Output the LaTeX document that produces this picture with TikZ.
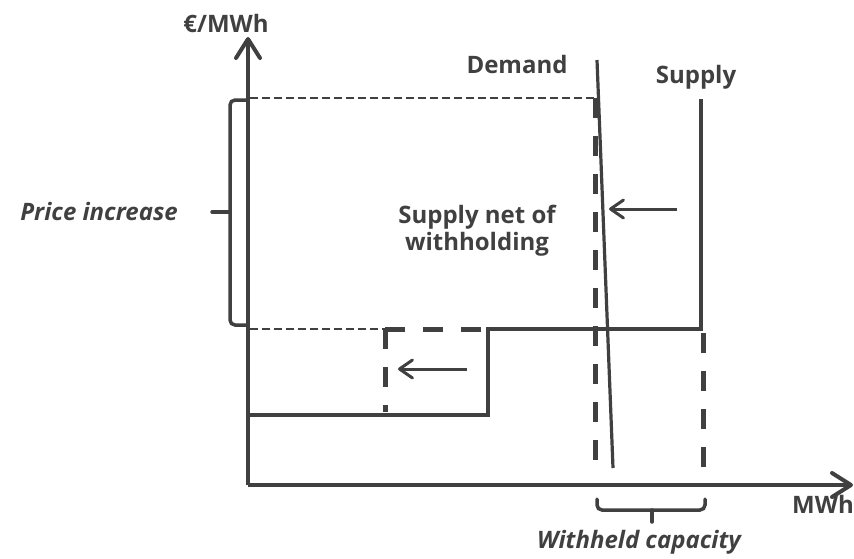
\documentclass[tikz,border=0pt]{standalone}
\usepackage{fontspec}
\setmainfont{Open Sans}
\usetikzlibrary{arrows.meta}
\definecolor{ink}{RGB}{64,64,64}
\tikzset{
  lbl/.style={text=ink, font=\fontsize{24}{27}\selectfont\bfseries, align=center, inner sep=0pt},
  ilbl/.style={lbl, font=\fontsize{24}{27}\selectfont\bfseries\itshape},
  axis/.style={draw=ink, line width=4pt, -{Straight Barb[length=19pt, width=24pt, line width=4pt, round]}},
  curve/.style={draw=ink, line width=4.5pt},
  demline/.style={draw=ink, line width=3.2pt},
  thin dash/.style={draw=ink, line width=2.5pt, dash pattern=on 8pt off 4pt},
  thick dash/.style={draw=ink, line width=5pt, dash pattern=on 20pt off 18pt},
  movearrow/.style={draw=ink, line width=3pt, -{Straight Barb[length=13pt, width=18pt, line width=3pt, round]}},
  brace/.style={draw=ink, line width=3.5pt, rounded corners=5pt, line cap=round},
}
\begin{document}
\begin{tikzpicture}[x=1pt, y=-1pt]
  \useasboundingbox (0,0) rectangle (854,558);
  \coordinate (o) at (248,485);
  \coordinate (ytop) at (248,37);
  \coordinate (xend) at (853,485);
  \coordinate (dtop) at (597,60);
  \coordinate (dbot) at (613,468);
  \coordinate (s1) at (248,415);
  \coordinate (s2) at (488,415);
  \coordinate (s3) at (488,329);
  \coordinate (s4) at (701,329);
  \coordinate (s5) at (701,99);
  \coordinate (w1) at (385,329);
  \coordinate (w2) at (385,412);
  \coordinate (n1) at (595,98);
  \coordinate (n2) at (595,465);
  \coordinate (r1) at (703,333);
  \coordinate (r2) at (703,472);
  \coordinate (pl) at (250,98);
  \coordinate (ql) at (250,329);
  \coordinate (a1) at (467,369);
  \coordinate (a2) at (398,369);
  \coordinate (b1) at (677,209);
  \coordinate (b2) at (609,209);

  \node[lbl, anchor=base] (yunit) at (226,32) {€/MWh};
  \node[lbl, anchor=base west] (xunit) at (792,513) {MWh};
  \node[lbl, anchor=base] (demand) at (517,73) {Demand};
  \node[lbl, anchor=base] (supply) at (696,83) {Supply};
  \node[lbl] (netsupply) at (477,231) {Supply net of\\withholding};
  \node[ilbl, anchor=base east] (price) at (178,220) {Price increase};
  \node[ilbl, anchor=base] (withheld) at (639,548) {Withheld capacity};

  \draw[thin dash] (pl) -- (n1);
  \draw[thin dash] (ql) -- (w1);
  \draw[thick dash] (w1) -- (s3);
  \draw[thick dash] (w1) -- (w2);
  \draw[thick dash] (n1) -- (n2);
  \draw[thick dash] (r1) -- (r2);
  \draw[curve] (s1) -- (s2) -- (s3) -- (s4) -- (s5);
  \draw[demline] (dtop) -- (dbot);
  \draw[movearrow] (a1) -- (a2);
  \draw[movearrow] (b1) -- (b2);
  \draw[axis] (o) -- (ytop);
  \draw[axis] (o) -- (xend);

  \draw[brace] (246,100) -- (230,100) -- (230,212) -- (230,325) -- (246,325);
  \draw[brace] (230,212) -- (212,212);
  \draw[brace] (597,499) -- (597,510) -- (652,510) -- (705,510) -- (705,499);
  \draw[brace] (652,510) -- (652,522);
\end{tikzpicture}
\end{document}
